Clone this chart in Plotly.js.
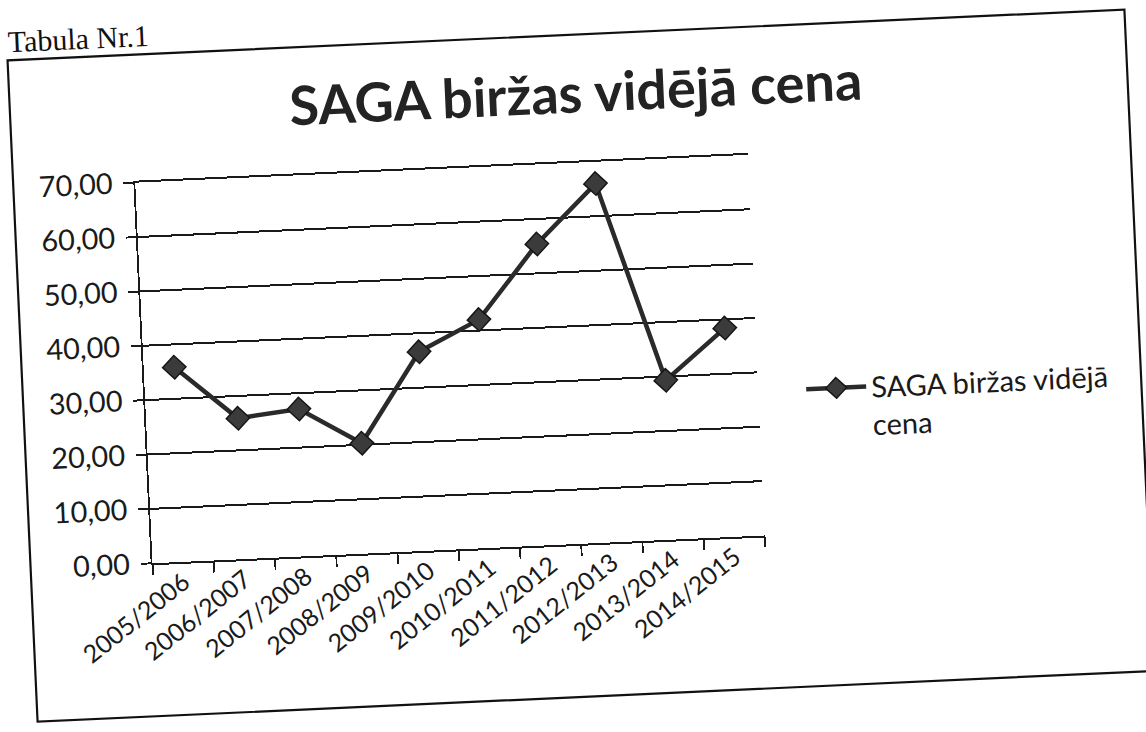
<!DOCTYPE html>
<html>
<head>
<meta charset="utf-8">
<script src="https://cdn.plot.ly/plotly-3.0.1.min.js"></script>
<style>
  html, body { margin: 0; padding: 0; background: #ffffff; overflow: hidden; }
  #wrap { width: 1146px; height: 732px; transform: rotate(-2.6deg); transform-origin: 573px 366px; }
  #chart { width: 1146px; height: 732px; }
</style>
</head>
<body>
<div id="wrap"><div id="chart"></div></div>
<script>
// Data
const seasons = ["2005/2006", "2006/2007", "2007/2008", "2008/2009", "2009/2010",
                 "2010/2011", "2011/2012", "2012/2013", "2013/2014", "2014/2015"];
const avgPrice = [35.8, 25.9, 27.1, 20.3, 36.6, 42.0, 55.4, 66.0, 29.3, 38.4];
const seriesName = "SAGA biržas vidējā<br>cena";
const chartTitle = "SAGA biržas vidējā cena";
const tableLabel = "Tabula Nr.1";
const yTicks = [0, 10, 20, 30, 40, 50, 60, 70];

const ink = "#1a1a1a";
const font = "Lato, 'Open Sans', sans-serif";

const trace = {
  type: "scatter",
  mode: "lines+markers",
  x: seasons,
  y: avgPrice,
  name: seriesName,
  line: { color: "#2a2a2a", width: 4.5 },
  marker: { symbol: "diamond", size: 18, color: "#3b3b3b", line: { color: "#161616", width: 1.5 } }
};

const layout = {
  width: 1146,
  height: 732,
  paper_bgcolor: "#ffffff",
  plot_bgcolor: "#ffffff",
  separators: ", ",
  margin: { l: 144, r: 389, t: 163, b: 188, autoexpand: false },
  font: { family: font, color: ink },
  title: {
    text: "<b>" + chartTitle + "</b>",
    x: 588 / 1146, xanchor: "center", xref: "container",
    y: 1 - 94 / 732, yanchor: "middle", yref: "container",
    font: { family: font, size: 54, color: "#232323" }
  },
  xaxis: {
    type: "category",
    range: [-0.5, 9.5],
    tickson: "boundaries",
    ticks: "outside", ticklen: 10, tickwidth: 1.8, tickcolor: ink,
    tickangle: -36,
    ticklabelstandoff: -6,
    showline: true, linecolor: ink, linewidth: 2, mirror: true,
    showgrid: false, zeroline: false,
    tickfont: { family: font, size: 25, color: ink },
    fixedrange: true
  },
  yaxis: {
    range: [0, 70],
    tickmode: "array", tickvals: yTicks,
    tickformat: ".2f",
    ticks: "outside", ticklen: 10, tickwidth: 2, tickcolor: ink,
    ticklabelstandoff: 5,
    showline: true, linecolor: ink, linewidth: 1.8,
    showgrid: true, gridcolor: ink, gridwidth: 2,
    zeroline: false,
    tickfont: { family: font, size: 29, color: ink },
    fixedrange: true
  },
  showlegend: true,
  legend: {
    x: 1.07, xanchor: "left",
    y: 0.445, yanchor: "top",
    valign: "top",
    bgcolor: "rgba(0,0,0,0)",
    itemwidth: 60,
    font: { family: font, size: 29, color: ink }
  },
  annotations: [{
    text: tableLabel,
    xref: "paper", yref: "paper",
    x: (93 - 144) / 613, y: (544 - 16) / 381,
    xanchor: "center", yanchor: "middle",
    showarrow: false,
    font: { family: "'Liberation Serif', 'DejaVu Serif', serif", size: 30, color: "#111111" }
  }],
  shapes: [{
    type: "rect", xref: "paper", yref: "paper",
    x0: (22 - 144) / 613, x1: (1140 - 144) / 613,
    y0: (544 - 697) / 381, y1: (544 - 35) / 381,
    line: { color: "#111111", width: 2.2 },
    fillcolor: "rgba(0,0,0,0)"
  }]
};

Plotly.newPlot("chart", [trace], layout, { displayModeBar: false, staticPlot: true });
</script>
</body>
</html>
